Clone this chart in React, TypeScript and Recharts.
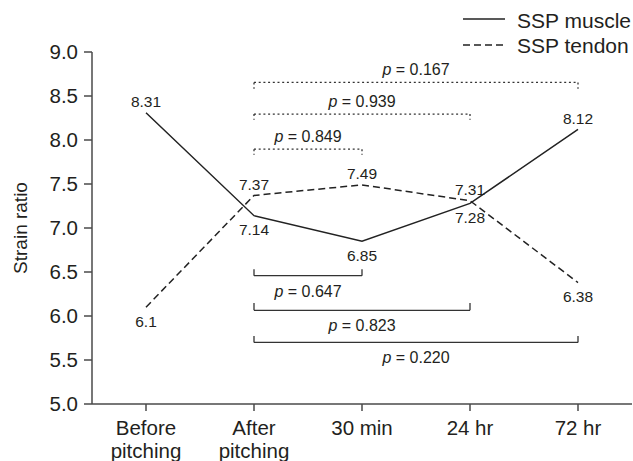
import React from 'react';
import { LineChart, Line, XAxis, YAxis, ReferenceLine, LabelList } from 'recharts';

const categories = ['Before pitching', 'After pitching', '30 min', '24 hr', '72 hr'];
const tickLabelLines: Record<string, string[]> = {
  'Before pitching': ['Before', 'pitching'],
  'After pitching': ['After', 'pitching'],
  '30 min': ['30 min'],
  '24 hr': ['24 hr'],
  '72 hr': ['72 hr'],
};
const muscleValues = [8.31, 7.14, 6.85, 7.28, 8.12];
const tendonValues = [6.1, 7.37, 7.49, 7.31, 6.38];
const muscleLabelSide = ['top', 'bottom', 'bottom', 'bottom', 'top'];
const tendonLabelSide = ['bottom', 'top', 'top', 'top', 'bottom'];
const yTicks = [5.0, 5.5, 6.0, 6.5, 7.0, 7.5, 8.0, 8.5, 9.0];
const seriesNames = ['SSP muscle', 'SSP tendon'];

const upperBrackets = [
  { from: 'After pitching', to: '72 hr', level: 8.654, end: 8.583, p: '0.167' },
  { from: 'After pitching', to: '24 hr', level: 8.295, end: 8.23, p: '0.939' },
  { from: 'After pitching', to: '30 min', level: 7.896, end: 7.832, p: '0.849' },
];
const lowerBrackets = [
  { from: 'After pitching', to: '30 min', level: 6.458, end: 6.531, p: '0.647' },
  { from: 'After pitching', to: '24 hr', level: 6.065, end: 6.148, p: '0.823' },
  { from: 'After pitching', to: '72 hr', level: 5.7, end: 5.773, p: '0.220' },
];

const data = categories.map((c, i) => ({ name: c, muscle: muscleValues[i], tendon: tendonValues[i] }));

const FONT = '"Liberation Sans", Arial, sans-serif';
const TEXT = '#231f20';
const AXIS = '#4a4a4a';

const XTick = (props: any) => {
  const { x, y, payload } = props;
  const lines = tickLabelLines[payload.value] || [payload.value];
  return (
    <text x={x} y={y} textAnchor="middle" fontSize={20.5} fill={TEXT} fontFamily={FONT}>
      {lines.map((l, i) => (
        <tspan key={i} x={x} dy={i === 0 ? 22 : 23}>{l}</tspan>
      ))}
    </text>
  );
};

const makeValueLabel = (sides: string[]) => (props: any) => {
  const { x, y, value, index } = props;
  const side = sides[index];
  const dy = side === 'top' ? -11 : 14;
  return (
    <text x={x} y={y + dy} textAnchor="middle" dominantBaseline="central" fontSize={15.5} fill={TEXT} fontFamily={FONT}>
      {String(value)}
    </text>
  );
};

const PLabel = (props: any) => {
  const { viewBox, p, above } = props;
  if (!viewBox) return null;
  const cx = viewBox.x + viewBox.width / 2;
  const cy = above ? viewBox.y - 13 : viewBox.y + 15;
  return (
    <text x={cx} y={cy} textAnchor="middle" dominantBaseline="central" fontSize={16} fill={TEXT} fontFamily={FONT}>
      <tspan fontStyle="italic">p</tspan>
      <tspan> = {p}</tspan>
    </text>
  );
};

const LegendBox = () => (
  <svg width={175} height={60} style={{ position: 'absolute', left: 460, top: 0, display: 'block' }}>
    <line x1={3} y1={19} x2={45} y2={19} stroke="#222" strokeWidth={1.5} />
    <text x={57} y={20} dominantBaseline="central" fontSize={21} fill={TEXT} fontFamily={FONT}>{seriesNames[0]}</text>
    <line x1={3} y1={45} x2={45} y2={45} stroke="#222" strokeWidth={1.5} strokeDasharray="7 4" />
    <text x={57} y={45} dominantBaseline="central" fontSize={21} fill={TEXT} fontFamily={FONT}>{seriesNames[1]}</text>
  </svg>
);

export default function App() {
  return (
    <div style={{ position: 'absolute', left: 0, top: 0, width: 633, height: 461, background: '#fff' }}>
      <LineChart width={633} height={461} data={data} margin={{ top: 52, right: 1, left: 0, bottom: 0 }}>
        <XAxis
          dataKey="name"
          padding={{ left: 54, right: 54 }}
          height={57}
          tick={<XTick />}
          tickSize={7}
          tickMargin={2}
          stroke={AXIS}
          strokeWidth={1.5}
          interval={0}
        />
        <YAxis
          domain={[5, 9]}
          ticks={yTicks}
          width={92}
          tickFormatter={(v: number) => v.toFixed(1)}
          tick={{ fontSize: 20.5, fill: TEXT, fontFamily: FONT }}
          tickSize={8}
          tickMargin={6}
          stroke={AXIS}
          strokeWidth={1.5}
          label={{ value: 'Strain ratio', angle: -90, position: 'insideLeft', offset: 20, style: { fontSize: 19, fill: TEXT, fontFamily: FONT, textAnchor: 'middle' } }}
        />
        {upperBrackets.map((b, i) => (
          <React.Fragment key={'u' + i}>
            <ReferenceLine segment={[{ x: b.from, y: b.level }, { x: b.to, y: b.level }]} stroke="#333" strokeWidth={1.3} strokeDasharray="2 2.7" label={<PLabel p={b.p} above />} />
            <ReferenceLine segment={[{ x: b.from, y: b.level }, { x: b.from, y: b.end }]} stroke="#333" strokeWidth={1.3} strokeDasharray="2 2.7" />
            <ReferenceLine segment={[{ x: b.to, y: b.level }, { x: b.to, y: b.end }]} stroke="#333" strokeWidth={1.3} strokeDasharray="2 2.7" />
          </React.Fragment>
        ))}
        {lowerBrackets.map((b, i) => (
          <React.Fragment key={'l' + i}>
            <ReferenceLine segment={[{ x: b.from, y: b.level }, { x: b.to, y: b.level }]} stroke="#333" strokeWidth={1.3} label={<PLabel p={b.p} above={false} />} />
            <ReferenceLine segment={[{ x: b.from, y: b.level }, { x: b.from, y: b.end }]} stroke="#333" strokeWidth={1.3} />
            <ReferenceLine segment={[{ x: b.to, y: b.level }, { x: b.to, y: b.end }]} stroke="#333" strokeWidth={1.3} />
          </React.Fragment>
        ))}
        <Line dataKey="muscle" name={seriesNames[0]} stroke="#222" strokeWidth={1.5} dot={false} isAnimationActive={false}>
          <LabelList dataKey="muscle" content={makeValueLabel(muscleLabelSide)} />
        </Line>
        <Line dataKey="tendon" name={seriesNames[1]} stroke="#222" strokeWidth={1.5} strokeDasharray="7 4" dot={false} isAnimationActive={false}>
          <LabelList dataKey="tendon" content={makeValueLabel(tendonLabelSide)} />
        </Line>
      </LineChart>
      <LegendBox />
    </div>
  );
}
